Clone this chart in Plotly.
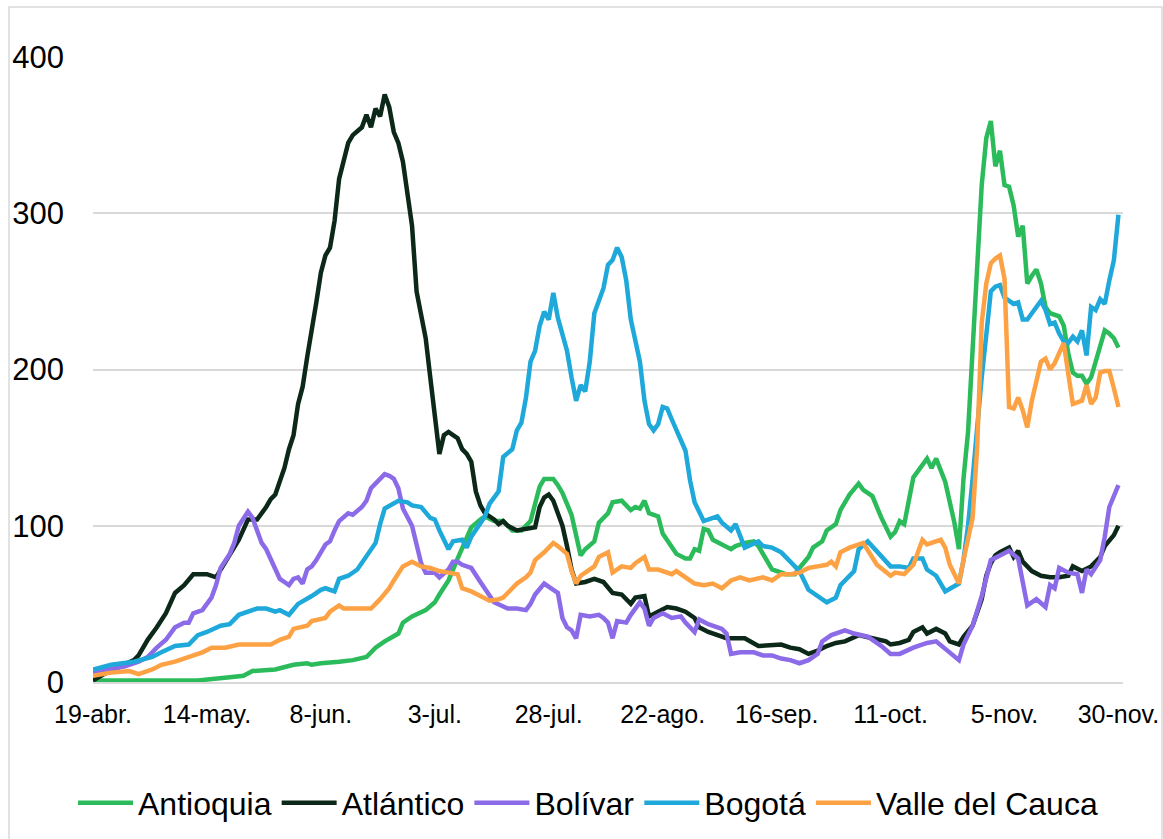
import plotly.graph_objects as go
import pandas as pd

START = "2020-04-19"

# (day offset from 19-abr, 7-day value)
antioquia = [(0,1),(10,1),(20,0.5),(23,1),(30,3),(33,4),(35,7),(40,8),(44,11),(47,12),(48,11),(50,12),(54,13),(57,14),(60,16),(62,22),(64,26),(67,31),(68,38),(70,42),(73,46),(75,51),(76,56),(78,65),(80,79),(82,92),(83,99),(85,104),(86,106),(88,103),(90,103),(92,97),(94,97),(96,103),(97,113),(98,125),(99,130),(101,130),(102,126),(103,121),(105,107),(106,95),(107,81),(108,85),(110,90),(111,102),(113,108),(114,115),(116,116),(118,110),(119,112),(120,111),(121,116),(122,108),(124,106),(125,95),(127,87),(128,82),(130,79),(131,79),(132,85),(133,84),(134,98),(135,97),(136,91),(138,88),(140,85),(141,87),(143,89),(145,90),(146,87),(148,77),(149,72),(152,69),(154,69),(155,73),(157,80),(158,86),(160,90),(161,97),(163,101),(164,110),(166,120),(168,127),(169,123),(171,119),(173,105),(175,93),(176,96),(177,103),(178,101),(179,116),(180,131),(182,139),(183,143),(184,137),(185,143),(187,128),(188,115),(189,102),(190,85),(191,130),(192,160),(193,210),(194,269),(195,318),(196,348),(197,359),(198,330),(199,340),(200,318),(201,317),(202,305),(203,285),(204,292),(205,255),(206,260),(207,264),(208,255),(209,240),(210,236),(212,234),(213,228),(214,210),(215,198),(216,196),(217,196),(218,191),(219,195),(220,205),(221,215),(222,225),(223,223),(224,220),(225,214)]

atlantico = [(0,1),(3,6),(6,10),(9,14),(10,17),(12,27),(14,35),(16,44),(18,57),(20,62),(22,69),(25,69),(27,67),(29,77),(32,91),(34,104),(36,104),(38,112),(39,117),(40,120),(41,128),(42,137),(43,149),(44,158),(45,178),(46,189),(47,208),(48,224),(49,243),(50,262),(51,273),(52,278),(53,295),(54,322),(55,335),(56,345),(57,350),(58,353),(59,355),(60,363),(61,355),(62,367),(63,362),(64,376),(65,368),(66,352),(67,345),(68,333),(69,310),(70,292),(71,250),(72,236),(73,220),(74,195),(75,170),(76,146),(77,158),(78,160),(79,158),(80,156),(81,149),(82,146),(83,141),(84,122),(85,113),(86,108),(88,104),(89,101),(90,103),(91,100),(93,97),(95,98),(97,99),(98,112),(99,118),(100,120),(101,116),(102,108),(103,100),(104,87),(105,72),(106,63),(108,64),(110,66),(112,64),(114,57),(116,56),(118,50),(119,54),(121,55),(122,42),(124,45),(126,48),(128,47),(130,45),(132,41),(133,35),(135,32),(137,30),(139,28),(141,28),(143,28),(146,23),(149,24),(151,24),(153,22),(155,21),(157,18),(159,20),(161,23),(163,25),(165,26),(168,30),(171,28),(174,26),(175,24),(177,25),(179,27),(180,32),(182,35),(183,31),(185,34),(187,31),(188,26),(190,24),(191,29),(193,36),(195,53),(196,68),(197,76),(198,81),(199,83),(201,86),(202,80),(203,84),(204,77),(206,71),(208,68),(210,67),(212,67),(214,68),(215,74),(217,71),(219,74),(221,80),(222,87),(224,94),(225,100)]

bolivar = [(0,6),(4,8),(7,10),(10,13),(12,16),(14,22),(16,27),(18,35),(20,38),(21,38),(22,44),(24,46),(25,50),(26,54),(27,62),(28,73),(30,82),(31,89),(32,100),(34,109),(35,105),(36,97),(37,89),(38,85),(40,72),(41,66),(42,64),(43,62),(44,66),(45,67),(46,63),(47,72),(48,74),(49,78),(51,88),(52,90),(53,97),(54,103),(56,108),(57,107),(59,112),(60,116),(61,124),(62,127),(63,131),(64,133),(65,132),(66,130),(67,124),(68,111),(70,100),(71,88),(72,76),(73,70),(75,70),(76,67),(78,72),(79,77),(80,77),(81,75),(83,73),(85,64),(86,60),(88,51),(91,47),(93,47),(95,46),(96,50),(97,56),(99,63),(101,59),(102,57),(103,41),(104,35),(105,33),(106,28),(107,43),(109,42),(111,43),(112,41),(113,38),(114,28),(115,39),(117,38),(118,43),(120,51),(121,47),(122,36),(123,41),(125,44),(127,41),(129,42),(130,38),(132,32),(133,40),(135,37),(138,34),(139,31),(140,18),(142,19),(145,19),(147,17),(149,17),(151,15),(153,14),(155,12),(157,14),(159,18),(160,26),(162,30),(165,33),(167,31),(170,29),(173,23),(175,18),(177,18),(180,22),(183,25),(185,26),(187,21),(189,16),(190,14),(191,24),(193,36),(195,55),(197,78),(199,81),(201,84),(203,79),(204,65),(205,49),(207,53),(209,48),(210,62),(211,60),(212,73),(214,70),(216,69),(217,57),(218,72),(219,69),(221,78),(222,93),(223,112),(225,126)]

bogota = [(0,8),(4,11),(9,13),(13,16),(15,19),(18,23),(21,24),(23,30),(25,32),(28,36),(30,37),(32,43),(36,47),(38,47),(40,45),(41,46),(43,43),(45,50),(48,55),(50,59),(51,60),(53,58),(54,66),(56,68),(58,72),(60,81),(62,89),(63,101),(64,111),(67,116),(69,115),(70,113),(72,112),(74,105),(75,104),(76,97),(78,85),(79,90),(81,91),(82,86),(83,93),(86,106),(87,114),(89,122),(90,144),(92,149),(93,161),(94,166),(95,182),(96,205),(97,212),(98,228),(99,237),(100,232),(101,249),(102,233),(103,222),(104,212),(105,195),(106,180),(107,190),(108,186),(109,205),(110,236),(112,252),(113,267),(114,270),(115,278),(116,272),(117,257),(118,232),(119,219),(120,205),(121,180),(122,165),(123,161),(124,165),(125,176),(126,175),(127,168),(128,161),(130,148),(131,129),(132,115),(134,103),(135,104),(137,106),(138,102),(140,97),(141,101),(142,94),(143,86),(146,90),(147,87),(149,86),(151,83),(153,77),(155,71),(157,59),(159,55),(161,51),(163,54),(164,62),(167,71),(168,85),(170,90),(171,87),(173,80),(175,74),(177,74),(179,73),(180,79),(182,79),(183,72),(185,68),(187,58),(189,61),(190,63),(191,78),(192,100),(193,130),(194,165),(195,195),(196,222),(197,250),(198,253),(199,254),(200,246),(201,244),(202,242),(203,243),(204,232),(205,232),(206,236),(207,240),(208,244),(209,238),(210,229),(211,230),(212,223),(213,218),(214,217),(215,221),(216,218),(217,225),(218,209),(219,240),(220,238),(221,245),(222,242),(223,257),(224,270),(225,299)]

valle = [(0,4),(4,6),(8,7),(10,5),(13,8),(15,11),(18,13),(21,16),(24,19),(26,22),(29,22),(32,24),(36,24),(39,24),(41,27),(43,29),(44,34),(47,36),(48,39),(51,41),(52,45),(54,49),(55,47),(58,47),(61,47),(63,53),(65,60),(66,65),(68,74),(70,77),(72,74),(74,73),(76,71),(78,70),(80,69),(81,60),(83,58),(85,55),(87,52),(89,53),(90,54),(92,60),(93,63),(95,67),(96,70),(97,78),(99,83),(101,89),(102,87),(104,82),(105,71),(106,63),(107,68),(108,70),(110,74),(111,80),(113,83),(114,70),(116,74),(118,73),(119,76),(121,80),(122,72),(124,72),(126,70),(127,69),(128,71),(130,67),(132,63),(134,62),(136,63),(138,60),(140,65),(142,67),(144,65),(147,67),(149,65),(151,69),(153,69),(155,70),(157,73),(159,74),(161,75),(162,77),(163,74),(164,83),(166,86),(169,89),(170,84),(172,75),(175,68),(176,70),(178,69),(180,75),(182,91),(183,88),(186,91),(187,86),(188,75),(190,63),(191,78),(192,90),(193,105),(194,150),(195,230),(196,255),(197,268),(198,271),(199,273),(200,258),(201,176),(202,175),(203,182),(204,174),(205,163),(206,180),(207,192),(208,205),(209,207),(210,200),(211,204),(212,210),(213,217),(214,197),(215,178),(216,179),(217,180),(218,190),(219,178),(220,182),(221,198),(222,199),(223,199),(224,188),(225,176)]

series_names = ["Antioquia", "Atlántico", "Bolívar", "Bogotá", "Valle del Cauca"]
series_data = [antioquia, atlantico, bolivar, bogota, valle]
series_colors = ["#2bbb5b", "#0c2819", "#8c6be8", "#1fa8da", "#fda244"]

tick_days = [0, 25, 50, 75, 100, 125, 150, 175, 200, 225]
tick_labels = ["19-abr.", "14-may.", "8-jun.", "3-jul.", "28-jul.", "22-ago.",
               "16-sep.", "11-oct.", "5-nov.", "30-nov."]
y_ticks = [0, 100, 200, 300, 400]

W, H = 1163, 839
L, R, T, B = 93, 40, 57, 157
PW, PH = W - L - R, H - T - B

start = pd.Timestamp(START)


def to_date(d):
    return (start + pd.Timedelta(days=d)).strftime("%Y-%m-%d")


fig = go.Figure()
for name, pts, color in zip(series_names, series_data, series_colors):
    fig.add_trace(go.Scatter(
        x=[to_date(p[0]) for p in pts],
        y=[p[1] for p in pts],
        mode="lines", name=name,
        line=dict(color=color, width=4.5),
    ))


def px_x(p):
    return (p - L) / PW


def px_y(p):
    return (H - B - p) / PH


fig.add_shape(type="rect", xref="paper", yref="paper",
              x0=px_x(9), x1=px_x(1162), y0=px_y(850), y1=px_y(7),
              line=dict(color="#d9d9d9", width=1.5), fillcolor="rgba(0,0,0,0)",
              layer="below")

fig.update_layout(
    width=W, height=H,
    margin=dict(l=L, r=R, t=T, b=B, autoexpand=False),
    paper_bgcolor="white", plot_bgcolor="white",
    font=dict(family="Liberation Sans, Arial, sans-serif", color="black"),
    xaxis=dict(
        type="date",
        range=[to_date(0), to_date(226)],
        tickvals=[to_date(d) for d in tick_days],
        ticktext=tick_labels,
        showgrid=False, zeroline=False,
        showline=True, linecolor="#d9d9d9", linewidth=2,
        ticks="", tickfont=dict(size=25, color="black"),
        ticklabelstandoff=9,
    ),
    yaxis=dict(
        range=[0, 400], tickvals=y_ticks,
        showgrid=True, gridcolor="#d9d9d9", gridwidth=2,
        zeroline=False, showline=False, ticks="",
        tickfont=dict(size=31, color="black"),
        ticklabelstandoff=28,
    ),
    legend=dict(orientation="h", x=px_x(588), xanchor="center",
                y=px_y(803), yanchor="middle",
                font=dict(size=32, color="black"), traceorder="normal",
                itemwidth=55),
    showlegend=True,
)

fig.write_html("out.html",
               config={"displayModeBar": False},
               post_script="document.body.style.margin='0';document.body.style.overflow='hidden';")
